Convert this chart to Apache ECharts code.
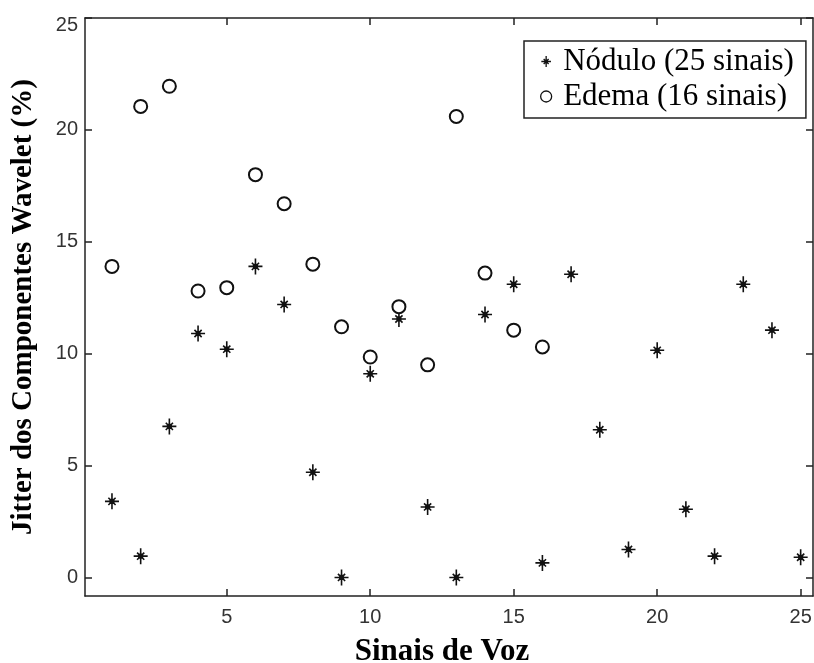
<!DOCTYPE html>
<html>
<head>
<meta charset="utf-8">
<script src="https://cdn.jsdelivr.net/npm/echarts@6/dist/echarts.min.js"></script>
<style>
  html, body { margin: 0; padding: 0; background: #fff; }
  #chart { width: 814px; height: 663px; }
</style>
</head>
<body>
<div id="chart"></div>
<script>
// Signal index (x) and wavelet jitter (%) per group
const noduloX = [1, 2, 3, 4, 5, 6, 7, 8, 9, 10, 11, 12, 13, 14, 15, 16, 17, 18, 19, 20, 21, 22, 23, 24, 25];
const noduloY = [3.4, 0.95, 6.75, 10.9, 10.2, 13.9, 12.2, 4.7, 0, 9.1, 11.55, 3.15, 0, 11.75, 13.1, 0.65, 13.55, 6.6, 1.25, 10.15, 3.05, 0.95, 13.1, 11.05, 0.9];
const edemaX = [1, 2, 3, 4, 5, 6, 7, 8, 9, 10, 11, 12, 13, 14, 15, 16];
const edemaY = [13.9, 21.05, 21.95, 12.8, 12.95, 18.0, 16.7, 14.0, 11.2, 9.85, 12.1, 9.5, 20.6, 13.6, 11.05, 10.3];

const xTicks = [5, 10, 15, 20, 25];
const yTicks = [0, 5, 10, 15, 20, 25];

const seriesNames = ['Nódulo (25 sinais)', 'Edema (16 sinais)'];
const xTitle = 'Sinais de Voz';
const yTitle = 'Jitter dos Componentes Wavelet (%)';

// asterisk marker: plus + short cross with a small filled core
const starPath = 'path://M0,-8L0,8M-7,0L7,0M-3.6,-3.6L3.6,3.6M-3.6,3.6L3.6,-3.6M-1.8,-1.8L1.8,-1.8L1.8,1.8L-1.8,1.8Z';

const pairs = (xs, ys) => xs.map((x, i) => [x, ys[i]]);

const ink = '#111';
const axisLine = { show: true, onZero: false, lineStyle: { color: '#222', width: 1.5 } };
const tickStyle = { show: true, inside: true, length: 7, lineStyle: { color: '#222', width: 1.5 } };
const labelFont = { fontFamily: 'Liberation Sans', fontSize: 20, color: '#333' };
const yTitleFont = { fontFamily: 'Liberation Serif', fontWeight: 'bold', fontSize: 29, color: '#000' };
const xTitleFont = { fontFamily: 'Liberation Serif', fontWeight: 'bold', fontSize: 31, color: '#000', padding: [0, 14, 0, 0] };

const chart = echarts.init(document.getElementById('chart'), null, { renderer: 'canvas' });

chart.setOption({
  backgroundColor: '#fff',
  animation: false,
  grid: { left: 85, right: 1, top: 18, bottom: 67, containLabel: false, outerBoundsMode: 'none' },
  legend: {
    left: 524, top: 41,
    orient: 'vertical',
    padding: [5, 12, 6, 16],
    itemGap: 4,
    itemWidth: 12, itemHeight: 11,
    borderColor: '#222', borderWidth: 1.5,
    backgroundColor: '#fff',
    textStyle: { fontFamily: 'Liberation Serif', fontSize: 31, color: '#000', padding: [0, 0, 0, 6] },
    data: [
      { name: seriesNames[0], icon: starPath, itemStyle: { color: ink, borderColor: ink, borderWidth: 1.3 } },
      { name: seriesNames[1], icon: 'circle', itemStyle: { color: '#fff', borderColor: ink, borderWidth: 1.3 } }
    ]
  },
  xAxis: [
    {
      type: 'value', min: 0.06, max: 25.43,
      axisLine, axisTick: Object.assign({ customValues: xTicks }, tickStyle),
      splitLine: { show: false },
      axisLabel: Object.assign({ customValues: xTicks, margin: 11 }, labelFont),
      name: xTitle, nameLocation: 'middle', nameGap: 40, nameTextStyle: xTitleFont
    },
    {
      type: 'value', position: 'top', min: 0.06, max: 25.43,
      axisLine, axisTick: Object.assign({ customValues: xTicks }, tickStyle),
      splitLine: { show: false }, axisLabel: { show: false }
    }
  ],
  yAxis: [
    {
      type: 'value', min: -0.83, max: 25,
      axisLine, axisTick: Object.assign({ customValues: yTicks }, tickStyle),
      splitLine: { show: false },
      axisLabel: Object.assign({
        customValues: yTicks, margin: 7,
        // the top label sits just under the upper border
        formatter: v => (v === 25 ? '{top|25}' : String(v)),
        rich: { top: Object.assign({ padding: [15, 0, 0, 0] }, labelFont) }
      }, labelFont),
      name: yTitle, nameLocation: 'middle', nameGap: 47, nameTextStyle: yTitleFont
    },
    {
      type: 'value', position: 'right', min: -0.83, max: 25,
      axisLine, axisTick: Object.assign({ customValues: yTicks }, tickStyle),
      splitLine: { show: false }, axisLabel: { show: false }
    }
  ],
  series: [
    {
      name: seriesNames[0], type: 'scatter',
      xAxisIndex: 0, yAxisIndex: 0,
      symbol: starPath, symbolSize: 16, symbolKeepAspect: true,
      itemStyle: { color: ink, borderColor: ink, borderWidth: 1.6, opacity: 1 },
      data: pairs(noduloX, noduloY)
    },
    {
      name: seriesNames[1], type: 'scatter',
      xAxisIndex: 0, yAxisIndex: 0,
      symbol: 'emptyCircle', symbolSize: 13,
      itemStyle: { color: ink, borderColor: ink, borderWidth: 1.4, opacity: 1 },
      data: pairs(edemaX, edemaY)
    }
  ]
});
</script>
</body>
</html>
